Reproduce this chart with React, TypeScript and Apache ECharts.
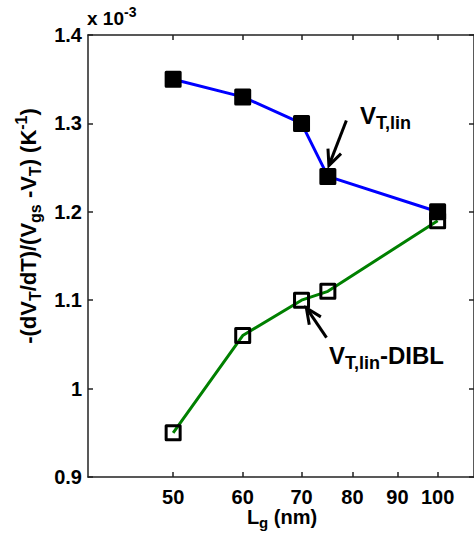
import React, { useEffect, useRef } from "react";
import * as echarts from "echarts";

const gateLengths = [50, 60, 70, 75, 100];
const vtLin = [1.35, 1.33, 1.3, 1.24, 1.2];
const vtLinDibl = [0.95, 1.06, 1.1, 1.11, 1.19];
const xTickValues = [50, 60, 70, 80, 90, 100];
const xRange = [40, 110];
const yRange = [0.9, 1.4];

const FONT = '"Liberation Sans", Arial, sans-serif';
const lg = (v: number) => Math.log10(v);

export default function App() {
  const ref = useRef<HTMLDivElement>(null);
  useEffect(() => {
    if (!ref.current) return;
    const chart = echarts.init(ref.current, undefined, { renderer: "svg" });
    const axisLine = { show: true, lineStyle: { color: "#222", width: 1.5 } };
    const tickVals = xTickValues.map(lg);
    const labelStyle = { color: "#000", fontFamily: FONT, fontWeight: "bold" as const, fontSize: 20 };
    chart.setOption({
      animation: false,
      backgroundColor: "#fff",
      grid: { left: 88, top: 35, right: -3, bottom: 59, containLabel: false },
      xAxis: [
        {
          type: "value",
          min: lg(xRange[0]),
          max: lg(xRange[1]),
          position: "bottom",
          axisLine,
          splitLine: { show: false },
          axisTick: { show: true, inside: true, length: 5, customValues: tickVals, lineStyle: { color: "#222", width: 1.5 } },
          axisLabel: {
            ...labelStyle,
            margin: 10,
            customValues: tickVals,
            formatter: (v: number) => String(Math.round(Math.pow(10, v))),
          },
        },
        {
          type: "value",
          min: lg(xRange[0]),
          max: lg(xRange[1]),
          position: "top",
          axisLine,
          splitLine: { show: false },
          axisTick: { show: true, inside: true, length: 5, customValues: tickVals, lineStyle: { color: "#222", width: 1.5 } },
          axisLabel: { show: false },
        },
      ],
      yAxis: [
        {
          type: "value",
          min: yRange[0],
          max: yRange[1],
          interval: 0.1,
          position: "left",
          axisLine,
          splitLine: { show: false },
          axisTick: { show: true, inside: true, length: 5, lineStyle: { color: "#222", width: 1.5 } },
          axisLabel: { ...labelStyle, margin: 6, formatter: (v: number) => String(Math.round(v * 10) / 10) },
        },
        {
          type: "value",
          min: yRange[0],
          max: yRange[1],
          interval: 0.1,
          position: "right",
          axisLine,
          splitLine: { show: false },
          axisTick: { show: true, inside: true, length: 5, lineStyle: { color: "#222", width: 1.5 } },
          axisLabel: { show: false },
        },
      ],
      series: [
        {
          type: "line",
          name: "VT,lin-DIBL",
          data: gateLengths.map((l, i) => [lg(l), vtLinDibl[i]]),
          symbol: "rect",
          symbolSize: 14,
          itemStyle: { color: "rgba(0,0,0,0)", borderColor: "#000", borderWidth: 3, borderJoin: "round" },
          lineStyle: { color: "#008000", width: 3 },
          z: 2,
        },
        {
          type: "line",
          name: "VT,lin",
          data: gateLengths.map((l, i) => [lg(l), vtLin[i]]),
          symbol: "rect",
          symbolSize: 14,
          itemStyle: { color: "#000", borderColor: "#000", borderWidth: 3, borderJoin: "round" },
          lineStyle: { color: "#0000ff", width: 3 },
          z: 3,
        },
      ],
    });

    const px = (l: number, v: number) =>
      chart.convertToPixel({ xAxisIndex: 0, yAxisIndex: 0 }, [lg(l), v]) as number[];

    const arrow = (tail: number[], tip: number[]) => {
      const dx = tip[0] - tail[0];
      const dy = tip[1] - tail[1];
      const len = Math.hypot(dx, dy);
      const ux = dx / len;
      const uy = dy / len;
      const hl = 17;
      const hw = 7;
      const bx = tip[0] - ux * hl;
      const by = tip[1] - uy * hl;
      return [
        {
          type: "line",
          shape: { x1: tail[0], y1: tail[1], x2: tip[0] - ux * 3, y2: tip[1] - uy * 3 },
          style: { stroke: "#000", lineWidth: 3 },
          z: 10,
        },
        {
          type: "polyline",
          shape: {
            points: [
              [bx - uy * hw, by + ux * hw],
              [tip[0] - ux * 1.5, tip[1] - uy * 1.5],
              [bx + uy * hw, by - ux * hw],
            ],
          },
          style: { stroke: "#000", lineWidth: 3, fill: null, lineJoin: "miter" },
          z: 10,
        },
      ];
    };

    const p75 = px(75, 1.24);
    const p70 = px(70, 1.1);
    const a1 = arrow([p75[0] + 18.5, p75[1] - 56], [p75[0] + 0.5, p75[1] - 9.5]);
    const a2 = arrow([p70[0] + 25, p70[1] + 37.5], [p70[0] + 4, p70[1] + 6.5]);

    const richBase = (main: number, sub: number, lh: number) => ({
      m: { fontSize: main, fontWeight: "bold", fontFamily: FONT, color: "#000", lineHeight: lh, verticalAlign: "middle" },
      s: { fontSize: sub, fontWeight: "bold", fontFamily: FONT, color: "#000", lineHeight: sub, verticalAlign: "bottom" },
      p: { fontSize: sub, fontWeight: "bold", fontFamily: FONT, color: "#000", lineHeight: sub, verticalAlign: "top" },
    });

    chart.setOption({
      graphic: [
        ...a1,
        ...a2,
        {
          type: "text",
          x: 28,
          y: 226,
          rotation: Math.PI / 2,
          style: {
            text: "{m|-(dV}{s|T}{m|/dT)/(V}{s|gs}{m| -V}{s|T}{m|) (K}{p|-1}{m|)}",
            rich: richBase(22, 16, 30),
            align: "center",
            verticalAlign: "middle",
          },
        },
        {
          type: "text",
          x: 282,
          y: 517,
          style: {
            text: "{m|L}{s|g}{m| (nm)}",
            rich: richBase(20, 15, 26),
            align: "center",
            verticalAlign: "middle",
          },
        },
        {
          type: "text",
          x: 87,
          y: 18,
          style: {
            text: "{m|x 10}{p|-3}",
            rich: richBase(19, 14, 26),
            align: "left",
            verticalAlign: "middle",
          },
        },
        {
          type: "text",
          x: 360,
          y: 115,
          style: {
            text: "{m|V}{s|T,lin}",
            rich: richBase(24, 18, 33),
            align: "left",
            verticalAlign: "middle",
          },
        },
        {
          type: "text",
          x: 329,
          y: 355,
          style: {
            text: "{m|V}{s|T,lin}{m|-DIBL}",
            rich: richBase(24, 18, 33),
            align: "left",
            verticalAlign: "middle",
          },
        },
      ],
    });

    return () => chart.dispose();
  }, []);
  return (
    <div
      ref={ref}
      style={{ position: "fixed", left: 0, top: 0, width: 474, height: 536, background: "#fff" }}
    />
  );
}
